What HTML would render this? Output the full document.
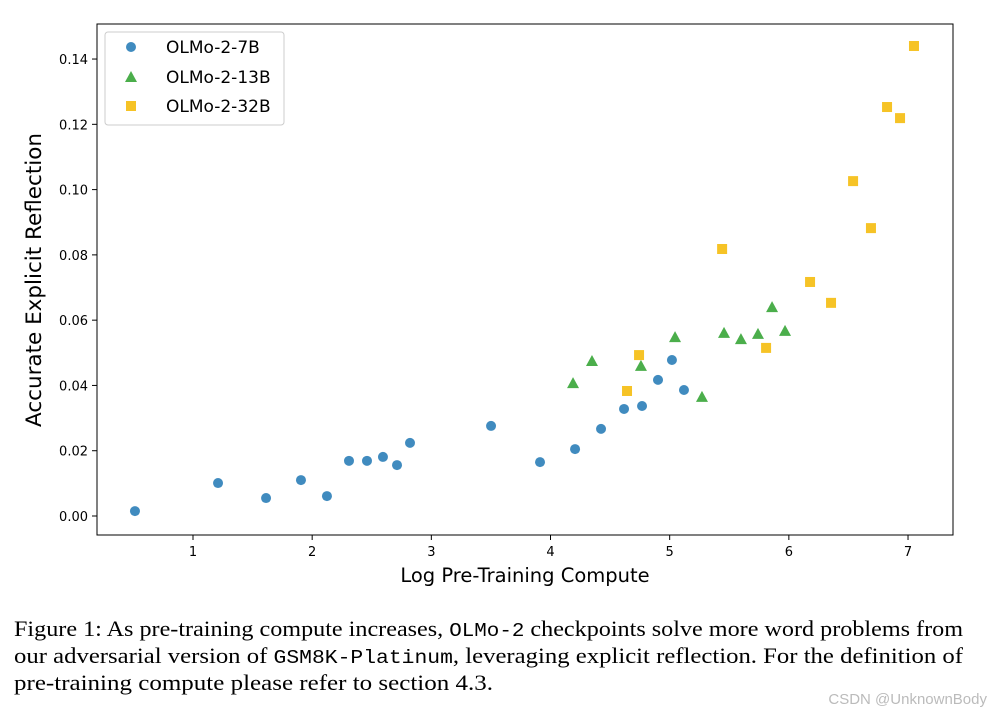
<!DOCTYPE html>
<html><head><meta charset="utf-8"><style>
body{margin:0;background:#fff;}
svg{display:block;font-family:"DejaVu Sans","Liberation Sans",sans-serif;}
</style></head><body>
<svg id="chart" width="991" height="717" viewBox="0 0 991 717">
<rect width="991" height="717" fill="#fff"/>
<rect x="97" y="24" width="856" height="511" fill="none" stroke="#000" stroke-width="1"/>
<g id="xticks"></g>
<g id="yticks"></g>
<g id="marks"></g>
<text x="525" y="582" text-anchor="middle" font-size="19.5">Log Pre-Training Compute</text>
<text transform="translate(41,280) rotate(-90)" text-anchor="middle" font-size="21.5">Accurate Explicit Reflection</text>
<g>
<rect x="105" y="32" width="179" height="93" rx="3" fill="#fff" stroke="#ccc"/>
<g><circle cx="131" cy="47" r="5" fill="#1f77b4" fill-opacity="0.85"/><text x="166" y="53" font-size="17">OLMo-2-7B</text></g>
<g><polygon points="131,71 137,82 125,82" fill="#2ca02c" fill-opacity="0.85"/><text x="166" y="83" font-size="17">OLMo-2-13B</text></g>
<g><rect x="126" y="101" width="10" height="10" fill="#f5b800" fill-opacity="0.85"/><text x="166" y="112" font-size="17">OLMo-2-32B</text></g>
</g>
<g font-family="'Liberation Serif',serif" font-size="22">
<text x="14" y="636" textLength="949" lengthAdjust="spacingAndGlyphs">Figure 1: As pre-training compute increases, <tspan font-family="'Liberation Mono',monospace" font-size="19">OLMo-2</tspan> checkpoints solve more word problems from</text>
<text x="14" y="663" textLength="949" lengthAdjust="spacingAndGlyphs">our adversarial version of <tspan font-family="'Liberation Mono',monospace" font-size="19">GSM8K-Platinum</tspan>, leveraging explicit reflection. For the definition of</text>
<text x="14" y="690" textLength="479" lengthAdjust="spacingAndGlyphs">pre-training compute please refer to section 4.3.</text>
</g>
<text x="987" y="704" text-anchor="end" font-size="15" fill="#bbb" font-family="'Liberation Sans',sans-serif">CSDN @UnknownBody</text>
</svg>
<script>
const xTicks=[1,2,3,4,5,6,7];
const yTicks=[0,0.02,0.04,0.06,0.08,0.10,0.12,0.14];
const x7b=[0.513,1.21,1.613,1.906,2.124,2.309,2.46,2.594,2.712,2.821,3.501,3.912,4.206,4.424,4.617,4.768,4.902,5.019,5.12];
const y7b=[0.0015,0.0101,0.0055,0.011,0.0061,0.0169,0.0169,0.0181,0.0156,0.0224,0.0276,0.0165,0.0205,0.0267,0.0328,0.0337,0.0417,0.0478,0.0386];
const x13b=[4.189,4.348,4.759,5.045,5.271,5.456,5.598,5.741,5.859,5.968];
const y13b=[0.0407,0.0475,0.046,0.0548,0.0365,0.0561,0.0542,0.0558,0.064,0.0567];
const x32b=[4.642,4.743,5.44,5.809,6.178,6.354,6.539,6.689,6.824,6.933,7.05];
const y32b=[0.0383,0.0493,0.0818,0.0515,0.0717,0.0653,0.1026,0.0882,0.1253,0.1219,0.144];
const NS="http://www.w3.org/2000/svg";
function sx(v){return 193+(v-1)*119.17;}
function sy(v){return 516-v*3264;}
function mk(tag,attrs,parent){const e=document.createElementNS(NS,tag);for(const k in attrs)e.setAttribute(k,attrs[k]);parent.appendChild(e);return e;}
const gx=document.getElementById('xticks'),gy=document.getElementById('yticks'),gm=document.getElementById('marks');
xTicks.forEach(t=>{const x=sx(t);
const l=mk('line',{x1:x,x2:x,y1:535,y2:540,stroke:'#000'},gx);


const tx=mk('text',{x:x,y:556,'text-anchor':'middle','font-size':13},gx);tx.textContent=t;

});
yTicks.forEach(t=>{const y=sy(t);
const l=mk('line',{x1:92,x2:97,y1:y,y2:y,stroke:'#000'},gy);


const tx=mk('text',{x:88,y:y+5,'text-anchor':'end','font-size':13},gy);tx.textContent=t.toFixed(2);

});
x7b.forEach((v,i)=>{const c=mk('circle',{cx:sx(v),cy:sy(y7b[i]),r:5,fill:'#1f77b4','fill-opacity':0.85},gm);

});
x13b.forEach((v,i)=>{const X=sx(v),Y=sy(y13b[i]);const p=mk('polygon',{points:`${X},${Y-6} ${X+6},${Y+5} ${X-6},${Y+5}`,fill:'#2ca02c','fill-opacity':0.85},gm);

});
x32b.forEach((v,i)=>{const r=mk('rect',{x:sx(v)-5,y:sy(y32b[i])-5,width:10,height:10,fill:'#f5b800','fill-opacity':0.85},gm);

});
</script>
</body></html>
